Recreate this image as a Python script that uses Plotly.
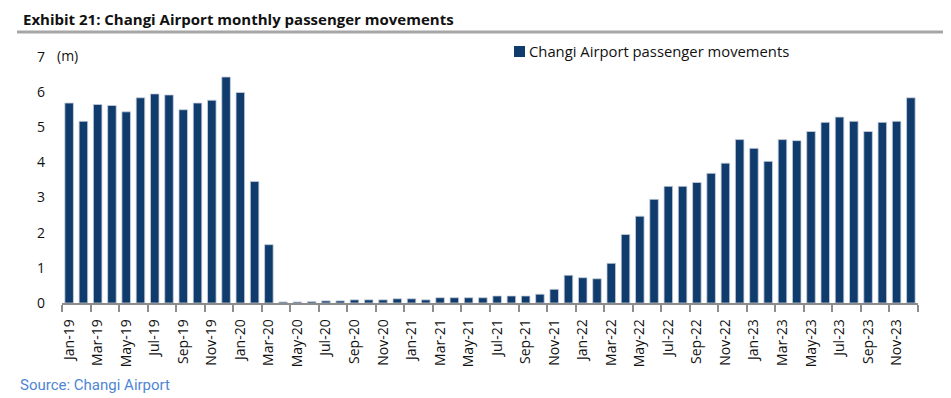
import plotly.graph_objects as go

months = [f"{m}-{y}" for y in ["19", "20", "21", "22", "23"]
          for m in ["Jan", "Feb", "Mar", "Apr", "May", "Jun", "Jul", "Aug", "Sep", "Oct", "Nov", "Dec"]]

passengers = [
    5.69, 5.17, 5.65, 5.62, 5.44, 5.84, 5.95, 5.92, 5.50, 5.69, 5.77, 6.43,   # 2019
    5.99, 3.46, 1.66, 0.03, 0.03, 0.04, 0.06, 0.06, 0.09, 0.09, 0.09, 0.12,   # 2020
    0.12, 0.09, 0.15, 0.15, 0.15, 0.15, 0.20, 0.20, 0.20, 0.25, 0.39, 0.79,   # 2021
    0.72, 0.69, 1.13, 1.95, 2.47, 2.95, 3.32, 3.32, 3.43, 3.69, 3.98, 4.65,   # 2022
    4.40, 4.03, 4.65, 4.62, 4.88, 5.14, 5.29, 5.17, 4.88, 5.14, 5.17, 5.84,   # 2023
]

series_name = "Changi Airport passenger movements"
title_text = "Exhibit 21: Changi Airport monthly passenger movements"
source_text = "Source: Changi Airport"
unit_text = "(m)"

x_idx = list(range(len(months)))
label_idx = x_idx[::2]
label_text = [months[i] for i in label_idx]
boundary_ticks = [i - 0.5 for i in label_idx] + [len(months) - 0.5]

# The page body has an 8px margin; work in page pixels and convert.
OFF = 8
PAGE_W, PAGE_H = 951, 398
W, H = PAGE_W - OFF, PAGE_H - OFF
# plot area in page pixels: x 62..918, y 57..303
L = 62 - OFF
T = 57 - OFF
R = W - (918 - OFF)
B = H - (303 - OFF)
plot_w = W - L - R
plot_h = H - T - B


def px(x):
    return (x - OFF - L) / plot_w


def py(y):
    return (H - B - (y - OFF)) / plot_h


BAR = "#0f3c6c"

fig = go.Figure()
fig.add_trace(go.Bar(
    x=x_idx, y=passengers, name=series_name,
    marker=dict(color=BAR, line=dict(color="#c9cfdc", width=0.8)),
    width=0.6, showlegend=False,
))

fig.update_layout(
    width=W, height=H,
    margin=dict(l=L, r=R, t=T, b=B, autoexpand=False),
    paper_bgcolor="white", plot_bgcolor="white",
    font=dict(family="Open Sans", size=14, color="#111111"),
    showlegend=False,
    xaxis=dict(
        range=[-0.5, len(months) - 0.5], automargin=False,
        tickmode="array", tickvals=label_idx, ticktext=label_text,
        tickangle=-90, ticks="outside", ticklen=9, tickcolor="rgba(0,0,0,0)",
        tickfont=dict(family="Open Sans", size=14, color="#111111"),
        showline=True, linecolor="#8c8c8c", linewidth=1.5,
        showgrid=False, zeroline=False,
        minor=dict(tickmode="array", tickvals=boundary_ticks, ticks="outside",
                   ticklen=7, tickcolor="#8c8c8c", tickwidth=1.5, showgrid=False),
    ),
    yaxis=dict(
        range=[0, 7], automargin=False, tickmode="array", tickvals=[0, 1, 2, 3, 4, 5, 6, 7],
        showgrid=False, zeroline=False, showline=False,
        ticks="", ticklabelstandoff=16,
        tickfont=dict(family="Open Sans", size=14, color="#111111"),
    ),
)

# legend (square + label)
fig.add_shape(type="rect", xref="paper", yref="paper",
              x0=px(514), x1=px(525), y0=py(57), y1=py(46),
              fillcolor=BAR, line=dict(width=0))
fig.add_annotation(text=series_name, xref="paper", yref="paper",
                   x=px(527), y=py(51), xanchor="left", yanchor="middle", showarrow=False,
                   font=dict(family="Open Sans", size=14.8, color="#111111"))

fig.add_annotation(text=f"<b>{title_text}</b>", xref="paper", yref="paper",
                   x=px(21), y=py(19), xanchor="left", yanchor="middle", showarrow=False,
                   font=dict(family="Open Sans", size=15, color="#111111"))
fig.add_shape(type="line", xref="paper", yref="paper",
              x0=px(17), x1=px(PAGE_W), y0=py(32), y1=py(32),
              line=dict(color="#a6a6a6", width=3))
fig.add_annotation(text=unit_text, xref="paper", yref="paper",
                   x=px(55), y=py(55), xanchor="left", yanchor="middle", showarrow=False,
                   font=dict(family="Open Sans", size=14, color="#111111"))
fig.add_annotation(text=source_text, xref="paper", yref="paper",
                   x=px(18), y=py(385), xanchor="left", yanchor="middle", showarrow=False,
                   font=dict(family="Roboto", size=15, color="#4f86d4"))

fig.write_html("out.html")
